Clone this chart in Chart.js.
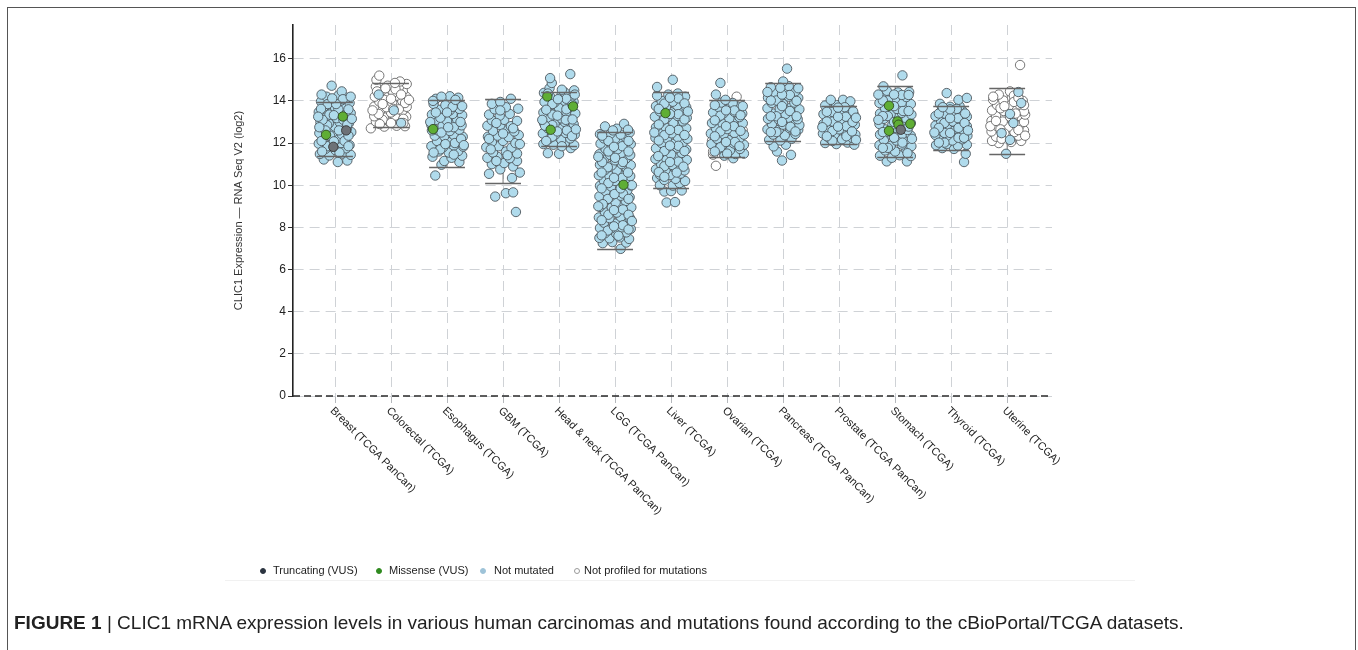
<!DOCTYPE html>
<html>
<head>
<meta charset="utf-8">
<script src="https://cdn.jsdelivr.net/npm/chart.js@4.4.1/dist/chart.umd.min.js"></script>
<style>
  body { margin: 0; background: #fff; font-family: "Liberation Sans", Arial, sans-serif; }
  #wrap { position: relative; width: 1358px; height: 650px; overflow: hidden; }
  #frame { position: absolute; left: 7px; top: 7px; width: 1347px; height: 700px; border: 1px solid #555; border-bottom: none; }
  canvas { position: absolute; left: 0; top: 0; }
  .item { position: absolute; top: 564px; font-size: 11px; color: #222; white-space: nowrap; }
  .dot { position: absolute; top: 568px; width: 6px; height: 6px; border-radius: 50%; box-sizing: border-box; }
  #legendLine { position: absolute; left: 225px; top: 580px; width: 910px; height: 1px; background: #f1f1f1; }
  #caption { position: absolute; left: 14px; top: 612px; font-size: 19px; color: #222; white-space: nowrap; }
</style>
</head>
<body>
<div id="wrap">
  <div id="frame"></div>
  <canvas id="myChart" width="1358" height="650"></canvas>
  <div id="legend"></div>
  <div id="legendLine"></div>
  <div id="caption"><b>FIGURE 1</b> | CLIC1 mRNA expression levels in various human carcinomas and mutations found according to the cBioPortal/TCGA datasets.</div>
</div>
<script>
const categories = ['Breast (TCGA PanCan)', 'Colorectal (TCGA)', 'Esophagus (TCGA)', 'GBM (TCGA)',
  'Head & neck (TCGA PanCan)', 'LGG (TCGA PanCan)', 'Liver (TCGA)', 'Ovarian (TCGA)',
  'Pancreas (TCGA PanCan)', 'Prostate (TCGA PanCan)', 'Stomach (TCGA)', 'Thyroid (TCGA)', 'Uterine (TCGA)'];

// whisker ends per category (log2)
const whiskerHigh = [13.93, 14.85, 14.05, 14.1, 14.42, 12.52, 14.4, 14.02, 14.85, 13.74, 14.69, 13.74, 14.59];
const whiskerLow = [11.4, 12.77, 10.84, 10.1, 11.88, 6.98, 9.85, 11.33, 12.08, 11.95, 11.32, 11.68, 11.49];

// samples as [jitter, value]; jitter in category units
const breast = [[-.2,11.22],[.05,11.1],[.22,11.17],[-.27,11.48],[-.1,11.41],[.13,11.5],[.28,11.44],
  [-.17,11.72],[.01,11.66],[.2,11.75],[-.29,11.97],[-.07,11.93],[.11,12.0],[.26,11.9],
  [-.21,12.22],[.03,12.18],[.18,12.25],[-.28,12.47],[-.04,12.5],[.12,12.42],[.29,12.52],
  [-.19,12.73],[.0,12.77],[.21,12.7],[-.26,12.98],[-.11,12.93],[.08,13.0],[.25,12.95],
  [-.17,13.22],[.03,13.18],[.2,13.25],[-.29,13.47],[-.06,13.44],[.12,13.5],[.28,13.42],
  [-.2,13.72],[.0,13.68],[.18,13.76],[-.25,13.97],[-.1,13.93],[.1,14.0],[.26,13.9],
  [-.15,14.2],[.06,14.25],[.21,14.15],[-.24,14.3],[.12,14.45],[-.06,14.72],
  [-.13,11.85],[.17,12.1],[-.09,12.35],[.07,12.6],[-.14,12.85],[.15,13.1],[-.1,13.35],[.06,13.6],[-.13,13.85],[.14,14.08],
  [-.23,11.6],[.08,11.55],[.24,11.85],[-.02,12.08],[-.24,12.1],[.24,12.35],[-.17,12.6],[.22,12.88],[-.22,13.1],
  [-.02,13.32],[.24,13.6],[-.25,13.62],[.02,13.85],[-.05,14.12],[.28,14.2],[-.28,12.75],[.3,13.15],[-.3,13.25]];
const colorectal = [[.05,13.55],[-.22,14.3],[.18,12.95]];
const colorectalNP = [[-.36,12.7],[-.12,12.78],[.1,12.82],[.25,12.8],[-.27,13.02],[-.03,13.0],[.17,13.05],
  [-.3,13.27],[-.13,13.22],[.07,13.3],[.27,13.25],[-.2,13.5],[.0,13.45],[.2,13.52],
  [-.3,13.73],[-.08,13.7],[.12,13.78],[.28,13.72],[-.21,13.97],[.02,13.93],[.2,14.0],
  [-.29,14.2],[-.1,14.18],[.1,14.25],[.27,14.2],[-.18,14.45],[.04,14.4],[.21,14.47],
  [-.27,14.68],[-.06,14.72],[.14,14.65],[.28,14.8],[.16,14.92],[-.26,15.0],[-.21,15.2],
  [-.15,13.1],[.14,13.6],[-.12,14.05],[.08,14.55],[.0,12.95],
  [-.2,12.9],[.22,13.15],[-.22,13.38],[.04,13.62],[.25,13.9],[-.15,13.85],[.0,14.1],[-.25,14.45],
  [.18,14.3],[-.1,14.6],[.07,14.85],[.22,12.95],[-.33,13.55],[.32,14.05]];
const esophagus = [[-.21,10.46],[-.1,10.97],[.22,11.1],[-.05,11.15],[-.26,11.35],[.08,11.3],[.27,11.4],
  [-.15,11.6],[.03,11.55],[.2,11.62],[-.28,11.85],[-.07,11.8],[.12,11.88],[.29,11.83],
  [-.18,12.1],[.02,12.05],[.2,12.12],[-.22,12.35],[-.05,12.32],[.12,12.38],[.28,12.3],
  [-.16,12.6],[.05,12.57],[.22,12.63],[-.28,12.85],[-.08,12.82],[.1,12.9],[.26,12.84],
  [-.2,13.1],[.0,13.05],[.18,13.12],[-.27,13.35],[-.1,13.3],[.1,13.38],[.27,13.32],
  [-.15,13.58],[.05,13.55],[.22,13.62],[-.24,13.85],[-.03,13.8],[.15,13.88],
  [-.2,14.1],[.05,14.22],[.2,14.15],
  [-.12,11.7],[.14,12.0],[-.1,12.5],[.12,12.75],[-.12,13.2],[.1,13.72],
  [-.24,11.55],[.12,11.45],[-.03,11.95],[.25,12.2],[-.27,12.6],[.02,12.75],[.24,13.0],[-.2,13.45],
  [.0,13.45],[.27,13.75],[-.25,14.0],[.15,14.05],[-.1,14.2],[.3,11.9],[-.3,13.0]];
const gbm = [[.23,8.73],[-.14,9.46],[.05,9.62],[.18,9.66],[.16,10.34],[-.25,10.54],[.18,10.89],[.3,10.6],[-.05,10.75],
  [-.2,11.0],[.02,11.05],[.25,11.15],[-.28,11.3],[-.1,11.35],[.12,11.28],
  [-.18,11.55],[.05,11.6],[.25,11.5],[-.3,11.8],[-.08,11.85],[.15,11.78],
  [-.2,12.05],[.0,12.1],[.22,12.0],[-.27,12.3],[-.1,12.35],[.1,12.28],[.28,12.38],
  [-.18,12.58],[.03,12.6],[.2,12.55],[-.28,12.82],[-.05,12.85],[.14,12.8],
  [-.2,13.08],[.02,13.1],[.25,13.05],[-.25,13.35],[-.06,13.3],[.12,13.38],
  [-.15,13.6],[.27,13.63],[.05,13.7],[-.2,13.86],[.14,14.1],[-.05,13.95],
  [-.12,11.15],[.08,11.42],[-.22,11.7],[.0,12.45],[-.05,13.55],[.18,12.7],[-.12,12.95],[.3,11.95],[-.25,12.2]];
const headNeck = [[-.2,11.52],[.0,11.49],[.21,11.76],[-.28,11.95],[-.1,11.92],[.1,12.0],[.27,11.9],
  [-.18,12.2],[.04,12.15],[.2,12.22],[-.29,12.45],[-.06,12.42],[.12,12.48],[.28,12.4],
  [-.2,12.7],[.02,12.68],[.2,12.74],[-.27,12.95],[-.08,12.92],[.1,13.0],[.26,12.9],
  [-.17,13.2],[.04,13.17],[.2,13.24],[-.28,13.45],[-.06,13.42],[.13,13.48],[.29,13.4],
  [-.2,13.7],[.0,13.66],[.18,13.7],[-.26,13.95],[-.08,13.92],[.1,14.0],[.26,13.96],
  [-.16,14.2],[.04,14.25],[.22,14.18],[-.27,14.38],[.1,14.4],
  [-.17,14.6],[.05,14.53],[.27,14.5],[-.13,14.85],[-.16,15.08],[.2,15.27],
  [-.12,12.3],[.14,12.6],[-.12,12.85],[.12,13.1],[-.12,13.35],[.13,13.6],[-.12,13.85],[.13,14.1],
  [-.23,12.1],[.23,12.33],[-.03,12.55],[-.25,12.82],[.24,13.12],[-.03,13.3],[-.23,13.58],[.24,13.82],
  [-.02,14.08],[-.2,14.35],[.28,14.3],[.05,11.85],[-.3,13.1],[.3,12.65]];
const lgg = [[.1,6.98],[-.22,7.25],[-.05,7.3],[.2,7.28],[-.28,7.5],[-.1,7.48],[.08,7.52],[.25,7.45],
  [-.18,7.72],[.02,7.7],[.2,7.76],[-.27,7.97],[-.07,7.95],[.12,8.0],[.28,7.93],
  [-.2,8.22],[.0,8.18],[.18,8.25],[-.29,8.47],[-.1,8.44],[.1,8.5],[.27,8.42],
  [-.18,8.72],[.03,8.7],[.21,8.75],[-.27,8.97],[-.06,8.94],[.12,9.0],[.29,8.95],
  [-.2,9.22],[.01,9.18],[.19,9.25],[-.28,9.47],[-.09,9.44],[.1,9.5],[.26,9.43],
  [-.17,9.72],[.04,9.7],[.22,9.76],[-.27,9.97],[-.07,9.94],[.28,9.99],
  [-.2,10.22],[.0,10.2],[.18,10.26],[-.29,10.47],[-.1,10.44],[.1,10.5],[.27,10.43],
  [-.18,10.72],[.03,10.7],[.21,10.75],[-.27,10.97],[-.06,10.94],[.12,11.0],[.28,10.95],
  [-.2,11.22],[.0,11.18],[.19,11.25],[-.28,11.47],[-.09,11.44],[.1,11.5],[.27,11.43],
  [-.17,11.72],[.04,11.7],[.22,11.76],[-.26,11.97],[-.07,11.94],[.12,12.0],[.28,11.95],
  [-.2,12.22],[.0,12.2],[.19,12.26],[-.27,12.42],[-.08,12.45],[.1,12.4],[.26,12.5],
  [-.18,12.79],[.03,12.68],[.16,12.91],[.23,12.63],
  [-.13,7.85],[.14,8.1],[-.12,8.6],[.14,8.85],[-.13,9.35],[.14,9.6],[-.12,10.1],[.13,10.35],
  [-.13,10.85],[.14,11.1],[-.12,11.6],[.13,11.85],[-.12,12.1],
  [-.24,7.62],[.06,7.6],[.24,7.9],[-.02,8.05],[-.24,8.34],[.24,8.6],[-.02,8.82],[-.22,9.1],[.24,9.35],
  [-.01,9.58],[-.24,9.85],[.1,9.85],[-.02,10.35],[.23,10.6],[-.24,10.6],[.0,11.3],[-.23,11.1],[.24,11.6],
  [-.02,11.82],[-.23,12.35],[.24,12.1],[-.3,9.0],[.3,10.0],[-.3,11.35],[.3,8.3],[-.04,12.6]];
const liver = [[-.08,9.18],[.07,9.2],[-.12,9.7],[.0,9.72],[.19,9.75],[-.25,10.34],
  [-.2,10.0],[.03,9.98],[.15,10.1],[-.12,10.25],[.08,10.3],[.25,10.2],
  [-.2,10.5],[-.02,10.48],[.17,10.55],[-.27,10.75],[-.1,10.72],[.08,10.78],[.24,10.7],
  [-.18,11.0],[.02,10.96],[.2,11.03],[-.28,11.25],[-.08,11.22],[.12,11.28],[.28,11.2],
  [-.2,11.5],[.0,11.46],[.19,11.53],[-.27,11.75],[-.09,11.72],[.11,11.78],[.27,11.7],
  [-.17,12.0],[.03,11.96],[.21,12.03],[-.28,12.25],[-.07,12.22],[.12,12.28],[.29,12.2],
  [-.2,12.5],[.01,12.46],[.2,12.53],[-.27,12.75],[-.09,12.72],[.1,12.78],[.27,12.7],
  [-.18,13.0],[.04,12.96],[.21,13.03],[-.29,13.25],[-.07,13.22],[.12,13.28],[.28,13.2],
  [-.2,13.5],[.0,13.46],[.19,13.53],[-.27,13.75],[-.09,13.72],[.11,13.78],[.27,13.7],
  [-.17,14.0],[.03,13.96],[.21,14.03],[-.25,14.25],[-.05,14.3],[.25,14.2],[.12,14.35],
  [-.25,14.66],[.03,15.0],
  [-.12,10.9],[.13,11.12],[-.12,11.62],[.13,11.87],[-.12,12.37],[.13,12.62],[-.12,13.12],[.13,13.37],[-.12,13.87],[.13,14.12],
  [-.22,10.62],[.22,10.88],[-.02,11.1],[-.23,11.38],[.24,11.62],[-.02,11.88],[-.22,12.12],[.24,12.38],
  [-.02,12.62],[-.22,12.88],[.24,13.12],[-.02,13.38],[-.22,13.62],[.24,13.88],[-.02,14.15],[.3,13.5],
  [-.3,12.5],[-.12,10.4],[.1,10.6]];
const ovarian = [[.11,11.28],[-.05,11.4],[.15,11.48],[.3,11.5],
  [-.17,11.7],[.05,11.65],[.23,11.72],[-.28,11.95],[-.08,11.9],[.12,11.98],[.3,11.92],
  [-.18,12.2],[.02,12.15],[.22,12.22],[-.29,12.45],[-.06,12.42],[.13,12.48],[.3,12.4],
  [-.2,12.7],[.0,12.66],[.2,12.72],[-.27,12.95],[-.08,12.92],[.1,13.0],[.28,12.94],
  [-.17,13.2],[.04,13.17],[.22,13.23],[-.25,13.45],[-.06,13.42],[.13,13.48],[.27,13.4],
  [-.15,13.7],[.05,13.67],[.2,13.72],[-.1,13.92],[.1,13.9],[-.03,14.05],
  [-.2,14.3],[-.12,14.85],
  [-.12,11.8],[.14,12.05],[-.12,12.55],[.12,12.8],[-.12,13.3],[.13,13.55],
  [-.22,11.6],[.22,11.85],[-.02,12.05],[-.22,12.32],[.24,12.58],[-.02,12.8],[-.22,13.08],[.24,13.32],
  [-.02,13.55],[-.22,13.8],[.28,13.75],[.0,11.5]];
const ovarianNP = [[-.2,10.92],[.17,14.2],[-.25,11.45],[-.25,11.6],[.28,12.6],[-.27,12.1]];
const pancreas = [[-.02,11.17],[.14,11.44],[-.11,11.6],[-.17,11.84],[.05,11.92],
  [-.25,12.15],[-.05,12.12],[.15,12.2],[.27,12.63],[-.18,12.4],[.03,12.37],[.22,12.43],
  [-.28,12.65],[-.08,12.62],[.12,12.7],[-.2,12.9],[.0,12.87],[.2,12.93],[.29,12.85],
  [-.27,13.15],[-.08,13.12],[.1,13.2],[.26,13.13],[-.17,13.4],[.04,13.37],[.22,13.43],
  [-.28,13.65],[-.06,13.62],[.13,13.68],[.29,13.6],[-.2,13.9],[.0,13.86],[.2,13.92],
  [-.27,14.15],[-.08,14.12],[.1,14.2],[.27,14.14],[-.15,14.4],[.06,14.37],[.22,14.45],
  [-.22,14.65],[.1,14.7],[.0,14.92],[.07,15.53],
  [-.12,12.52],[.13,12.77],[-.12,13.27],[.12,13.52],[-.12,14.02],[.12,14.28],
  [-.22,12.52],[.22,12.55],[-.02,13.0],[-.22,13.27],[.24,13.27],[-.02,13.75],[-.22,14.02],[.24,14.0],
  [-.02,14.3],[-.28,14.42],[.27,14.6],[-.05,14.62]];
const prostate = [[-.25,12.0],[-.05,11.95],[.15,12.02],[.27,11.92],
  [-.17,12.22],[.05,12.18],[.23,12.25],[-.29,12.45],[-.08,12.42],[.12,12.48],[.29,12.4],
  [-.2,12.68],[.0,12.65],[.2,12.7],[-.28,12.9],[-.08,12.88],[.12,12.95],[.28,12.87],
  [-.18,13.13],[.03,13.1],[.22,13.16],[-.28,13.37],[-.07,13.34],[.12,13.4],[.27,13.32],
  [-.18,13.6],[.03,13.57],[.2,13.63],[-.25,13.78],[-.05,13.8],[.15,13.78],
  [-.15,14.05],[.07,14.05],[.2,13.98],
  [-.12,12.1],[.13,12.32],[-.12,12.57],[.13,12.8],[-.12,13.02],[.12,13.25],[-.12,13.48],[.1,13.7],
  [-.22,12.32],[.23,12.55],[-.02,12.78],[-.22,13.02],[.24,13.0],[-.02,13.25],[-.22,13.48],[.25,13.5],
  [-.02,13.68],[.3,12.15],[-.3,12.75],[.3,13.2]];
const stomach = [[-.15,11.13],[.21,11.13],[-.06,11.3],[-.27,11.4],[.08,11.42],[.28,11.38],
  [-.18,11.65],[.0,11.6],[.2,11.68],[-.28,11.9],[-.08,11.87],[.12,11.93],[.29,11.85],
  [-.2,12.15],[.02,12.12],[.2,12.18],[-.27,12.4],[-.07,12.37],[.13,12.43],[.28,12.35],
  [-.18,12.65],[.03,12.7],[.22,12.62],[-.28,12.9],[-.05,12.87],[.28,12.95],
  [-.2,13.15],[.0,13.2],[.2,13.12],[-.27,13.4],[-.08,13.37],[.12,13.43],[.29,13.35],
  [-.18,13.65],[.03,13.62],[.22,13.68],[-.28,13.9],[-.07,13.87],[.12,13.93],[.28,13.85],
  [-.2,14.15],[.0,14.12],[.2,14.18],[-.15,14.48],[.05,14.4],[.25,14.42],
  [-.21,14.69],[.13,15.21],
  [-.13,11.77],[.13,12.02],[-.12,12.52],[.13,12.78],[-.13,13.28],[.14,13.52],[-.13,14.02],[.12,14.28],
  [-.22,11.77],[.22,11.52],[-.02,12.25],[-.22,12.52],[.24,12.78],[-.02,13.0],[-.22,13.28],[.24,13.52],
  [-.02,13.75],[-.22,14.02],[.24,14.28],[-.02,14.3],[.3,12.2],[-.3,13.1],[-.3,14.3]];
const thyroid = [[.23,11.1],[.26,11.49],[-.16,11.76],[.05,11.72],
  [-.27,11.9],[-.08,11.95],[.12,11.88],[.28,11.92],[-.18,12.15],[.02,12.12],[.2,12.18],
  [-.28,12.38],[-.07,12.35],[.12,12.42],[.29,12.35],[-.19,12.6],[.01,12.57],[.2,12.63],
  [-.28,12.83],[-.08,12.8],[.12,12.87],[.28,12.8],[-.18,13.05],[.03,13.02],[.21,13.08],
  [-.28,13.28],[-.07,13.25],[.12,13.32],[.28,13.25],[-.18,13.5],[.03,13.47],[.2,13.53],
  [-.2,13.86],[-.02,13.72],[.15,13.75],[-.08,14.37],[.13,14.05],[.28,14.14],
  [-.12,12.02],[.13,12.25],[-.12,12.48],[.13,12.72],[-.12,12.95],[.12,13.18],[-.12,13.4],[.1,13.62],
  [-.22,12.02],[.23,12.25],[-.02,12.48],[-.22,12.72],[.24,12.95],[-.02,13.18],[-.22,13.4],[.25,13.4],
  [-.02,13.6],[.3,12.6],[-.3,12.5],[-.15,13.7]];
const uterine = [[.2,14.42],[-.02,11.49],[-.1,12.47],[.11,12.95],[.05,13.38],[.05,12.15],[.25,13.9]];
const uterineNP = [[-.15,12.0],[-.27,12.1],[.07,12.05],[.25,12.1],[-.2,12.3],[.0,12.28],[.2,12.35],
  [-.28,12.55],[.13,12.52],[.3,12.6],[-.18,12.8],[.02,12.77],[.22,12.83],
  [-.28,13.05],[-.08,13.02],[.3,13.0],[-.2,13.3],[.18,13.28],[.32,13.35],
  [-.27,13.55],[-.06,13.52],[.13,13.58],[.3,13.5],[-.18,13.8],[.03,13.77],[.22,13.83],
  [-.25,14.05],[-.07,14.02],[.13,14.08],[.28,14.0],[-.15,14.3],[.05,14.45],[.12,14.25],[.23,15.7],
  [-.12,12.65],[.1,13.15],[-.12,13.65],[.12,13.95],
  [-.05,12.45],[.2,12.62],[-.3,12.8],[.05,13.25],[-.2,13.05],[.15,13.4],[-.05,13.75],[.3,13.8],
  [-.25,14.2],[.2,14.15],[-.1,12.2],[.32,12.35]];

// mutated samples as [category index, jitter, value]
const missense = [[0,-.16,12.39],[0,.14,13.26],[2,-.25,12.66],[4,-.21,14.21],[4,.25,13.74],[4,-.15,12.63],
  [5,.15,10.02],[6,-.1,13.42],[10,-.11,13.77],[10,.04,13.03],[10,.06,12.87],[10,.27,12.91],[10,-.11,12.58]];
const truncating = [[0,-.03,11.82],[0,.2,12.6],[10,.1,12.63]];

const notMutatedByCat = [breast, colorectal, esophagus, gbm, headNeck, lgg, liver, ovarian, pancreas, prostate, stomach, thyroid, uterine];
const notProfiledByCat = [[1, colorectalNP], [7, ovarianNP], [12, uterineNP]];

const toPts = (list, c) => list.map(([dx, y]) => ({ x: c + dx, y }));

const notMutatedPts = notMutatedByCat.flatMap((list, c) => toPts(list, c));
const notProfiledPts = notProfiledByCat.flatMap(([c, list]) => toPts(list, c));
const missensePts = missense.map(([c, dx, y]) => ({ x: c + dx, y }));
const truncatingPts = truncating.map(([c, dx, y]) => ({ x: c + dx, y }));

const FONT = '"Liberation Sans", Arial, Helvetica, sans-serif';
Chart.defaults.font.family = FONT;

// legend (html)
const legendItems = [
  { label: 'Truncating (VUS)', fill: '#2b3440', stroke: '#2b3440', dot: 260, text: 273 },
  { label: 'Missense (VUS)', fill: '#2f8a1f', stroke: '#2f8a1f', dot: 376, text: 389 },
  { label: 'Not mutated', fill: '#9ec3d8', stroke: '#9ec3d8', dot: 480, text: 494 },
  { label: 'Not profiled for mutations', fill: '#fff', stroke: '#999', dot: 574, text: 584 },
];
const legend = document.getElementById('legend');
legendItems.forEach(it => {
  const d = document.createElement('div');
  d.className = 'dot';
  d.style.left = it.dot + 'px';
  d.style.background = it.fill;
  d.style.border = `1px solid ${it.stroke}`;
  legend.appendChild(d);
  const t = document.createElement('div');
  t.className = 'item';
  t.style.left = it.text + 'px';
  t.textContent = it.label;
  legend.appendChild(t);
});

// whiskers: stem under the points, caps on top
const whiskers = {
  id: 'whiskers',
  beforeDatasetsDraw(chart) {
    const { ctx, scales: { x, y } } = chart;
    ctx.save();
    ctx.strokeStyle = '#777';
    ctx.lineWidth = 1;
    categories.forEach((_, i) => {
      const px = x.getPixelForValue(i);
      ctx.beginPath();
      ctx.moveTo(px, y.getPixelForValue(whiskerLow[i]));
      ctx.lineTo(px, y.getPixelForValue(whiskerHigh[i]));
      ctx.stroke();
    });
    ctx.restore();
  },
  afterDatasetsDraw(chart) {
    const { ctx, scales: { x, y } } = chart;
    ctx.save();
    ctx.strokeStyle = '#666';
    ctx.lineWidth = 1.3;
    categories.forEach((_, i) => {
      const l = x.getPixelForValue(i - 0.32);
      const r = x.getPixelForValue(i + 0.32);
      [whiskerLow[i], whiskerHigh[i]].forEach(v => {
        const py = Math.round(y.getPixelForValue(v)) + 0.5;
        ctx.beginPath();
        ctx.moveTo(l, py);
        ctx.lineTo(r, py);
        ctx.stroke();
      });
    });
    ctx.restore();
  }
};

// dashed dark x axis line + rotated category labels reading downwards
const xAxis = {
  id: 'xAxis',
  afterDraw(chart) {
    const { ctx, scales: { x }, chartArea } = chart;
    ctx.save();
    ctx.strokeStyle = '#2a2a2a';
    ctx.lineWidth = 1.6;
    ctx.setLineDash([7, 4]);
    ctx.beginPath();
    ctx.moveTo(chartArea.left, chartArea.bottom);
    ctx.lineTo(chartArea.right, chartArea.bottom);
    ctx.stroke();
    ctx.setLineDash([]);
    ctx.font = `11px ${FONT}`;
    ctx.fillStyle = '#222';
    ctx.textAlign = 'left';
    ctx.textBaseline = 'middle';
    categories.forEach((name, i) => {
      ctx.save();
      ctx.translate(x.getPixelForValue(i) - 3, chartArea.bottom + 13);
      ctx.rotate(Math.PI / 4);
      ctx.fillText(name, 0, 0);
      ctx.restore();
    });
    ctx.restore();
  }
};

const pointStyle = (fill, stroke) => ({
  type: 'scatter',
  backgroundColor: fill,
  borderColor: stroke,
  borderWidth: 0.9,
  pointRadius: 4.7,
  pointHoverRadius: 4.7,
});

const ctx = document.getElementById('myChart').getContext('2d');
const myChart = new Chart(ctx, {
  type: 'scatter',
  data: {
    datasets: [
      { label: 'Truncating (VUS)', data: truncatingPts, ...pointStyle('#6d7277', '#333') },
      { label: 'Missense (VUS)', data: missensePts, ...pointStyle('#5fae35', '#2e4a22') },
      { label: 'Not mutated', data: notMutatedPts, ...pointStyle('#b0dbec', '#4d575d') },
      { label: 'Not profiled for mutations', data: notProfiledPts, ...pointStyle('#ffffff', '#666') },
    ]
  },
  options: {
    responsive: false,
    animation: false,
    events: [],
    layout: { padding: { left: 228, top: 25, right: 306, bottom: 234 } },
    plugins: { legend: { display: false }, tooltip: { enabled: false } },
    scales: {
      x: {
        type: 'linear',
        min: -0.75,
        max: 12.8,
        ticks: { display: false, stepSize: 1, includeBounds: false },
        afterBuildTicks: (scale) => { scale.ticks = categories.map((_, i) => ({ value: i })); },
        afterFit: (scale) => { scale.height = 20; },
        grid: { color: '#cfd2d6', lineWidth: 1, tickLength: 7, tickColor: '#b5b8bc' },
        border: { display: false, dash: [10, 6] },
      },
      y: {
        min: 0,
        max: 17.6,
        ticks: { stepSize: 2, includeBounds: false, padding: 2, color: '#222', font: { size: 12 } },
        afterFit: (scale) => { scale.width = 65; },
        title: { display: true, text: 'CLIC1 Expression — RNA Seq V2 (log2)', color: '#333', font: { size: 11 }, padding: { top: 4, bottom: 4 } },
        grid: { color: '#cfd2d6', lineWidth: 1, tickLength: 5, tickColor: '#333' },
        border: { display: true, color: '#222', width: 1.6, dash: [10, 6] },
      }
    }
  },
  plugins: [whiskers, xAxis]
});
</script>
</body>
</html>
